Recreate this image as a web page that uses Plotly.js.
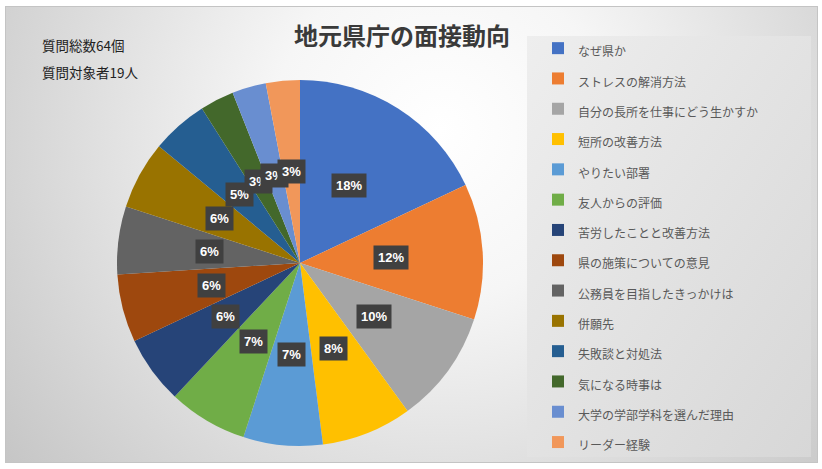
<!DOCTYPE html>
<html>
<head>
<meta charset="utf-8">
<script src="https://cdn.plot.ly/plotly-3.0.1.min.js"></script>
<style>
  html, body { margin: 0; padding: 0; background: #fff; }
  #chart { width: 822px; height: 469px; }
</style>
</head>
<body>
<div id="chart"></div>
<script>
// questions asked in interviews, share of all questions (%)
var labels = [
  "なぜ県か", "ストレスの解消方法", "自分の長所を仕事にどう生かすか", "短所の改善方法",
  "やりたい部署", "友人からの評価", "苦労したことと改善方法", "県の施策についての意見",
  "公務員を目指したきっかけは", "併願先", "失敗談と対処法", "気になる時事は",
  "大学の学部学科を選んだ理由", "リーダー経験"
];
var shares = [18, 12, 10, 8, 7, 7, 6, 6, 6, 6, 5, 3, 3, 3];
var colors = [
  "#4472C4", "#ED7D31", "#A5A5A5", "#FFC000", "#5B9BD5", "#70AD47", "#264478",
  "#9E480E", "#636363", "#997300", "#255E91", "#43682B", "#698ED0", "#F1975A"
];
var totalQuestions = 64;
var respondents = 19;

var W = 822, H = 469;
var cx = 300, cy = 263, R = 183;   // pie centre / radius in px

// background + legend panel as one svg picture
var bg = "<svg xmlns='http://www.w3.org/2000/svg' width='822' height='469' viewBox='0 0 822 469'>" +
  "<defs>" +
  "<radialGradient id='g' gradientUnits='userSpaceOnUse' cx='440' cy='130' r='560'>" +
  "<stop offset='0' stop-color='#ffffff'/><stop offset='0.3' stop-color='#f6f6f6'/>" +
  "<stop offset='1' stop-color='#c4c4c4'/></radialGradient>" +
  "<linearGradient id='l' x1='0' y1='0' x2='1' y2='1'>" +
  "<stop offset='0' stop-color='#eeeeee'/><stop offset='1' stop-color='#d7d7d7'/></linearGradient>" +
  "</defs>" +
  "<rect x='5.5' y='6.5' width='812' height='456' fill='url(#g)' stroke='#c4c4c4'/>" +
  "<rect x='527' y='36' width='284' height='421' fill='url(#l)'/>" +
  "</svg>";

var total = shares.reduce(function (a, b) { return a + b; }, 0);

// percentage boxes placed at the middle of each slice
var annotations = [];
var cum = 0;
shares.forEach(function (v) {
  var mid = (cum + v / 2) / total * 2 * Math.PI;
  cum += v;
  var px = cx + 0.5 * R * Math.sin(mid);
  var py = cy - 0.5 * R * Math.cos(mid);
  annotations.push({
    xref: "paper", yref: "paper", x: px / W, y: 1 - py / H,
    xanchor: "center", yanchor: "middle",
    text: "<b>" + Math.round(v / total * 100) + "%</b>",
    showarrow: false, bgcolor: "#404040", borderpad: 4,
    font: { family: "Liberation Sans, Arial, sans-serif", size: 13, color: "#ffffff" }
  });
});

annotations.push({
  xref: "paper", yref: "paper", x: 40 / W, y: 1 - 45 / H, xanchor: "left", yanchor: "middle",
  text: "質問総数" + totalQuestions + "個", showarrow: false,
  font: { family: "Noto Sans CJK JP", size: 13.5, color: "#222222" }
});
annotations.push({
  xref: "paper", yref: "paper", x: 40 / W, y: 1 - 72 / H, xanchor: "left", yanchor: "middle",
  text: "質問対象者" + respondents + "人", showarrow: false,
  font: { family: "Noto Sans CJK JP", size: 13.5, color: "#222222" }
});

var data = [{
  type: "pie",
  labels: labels.map(function (s) { return "<span style='font-size:12px'>" + s + "</span>"; }),
  values: shares,
  sort: false,
  direction: "clockwise",
  rotation: 0,
  textinfo: "none",
  hoverinfo: "percent",
  marker: { colors: colors, line: { width: 0 } },
  domain: { x: [(cx - R) / W, (cx + R) / W], y: [1 - (cy + R) / H, 1 - (cy - R) / H] }
}];

var layout = {
  width: W, height: H,
  margin: { t: 0, r: 0, b: 0, l: 0 },
  paper_bgcolor: "#ffffff",
  title: {
    text: "地元県庁の面接動向",
    x: 402 / W, xanchor: "center", y: 1 - 37 / H, yanchor: "middle",
    font: { family: "Noto Sans CJK JP", size: 24, color: "#3a3a3a", weight: "bold" }
  },
  legend: {
    x: 538 / W, xanchor: "left", y: 1 - 28 / H, yanchor: "top",
    bgcolor: "rgba(0,0,0,0)",
    font: { family: "Noto Sans CJK JP", size: 21, color: "#595959" }
  },
  images: [{
    source: "data:image/svg+xml;charset=utf-8," + encodeURIComponent(bg),
    xref: "paper", yref: "paper", x: 0, y: 1, sizex: 1, sizey: 1,
    sizing: "stretch", layer: "below", xanchor: "left", yanchor: "top"
  }],
  annotations: annotations,
  showlegend: true
};

Plotly.newPlot("chart", data, layout, { displayModeBar: false, responsive: false });
</script>
</body>
</html>
